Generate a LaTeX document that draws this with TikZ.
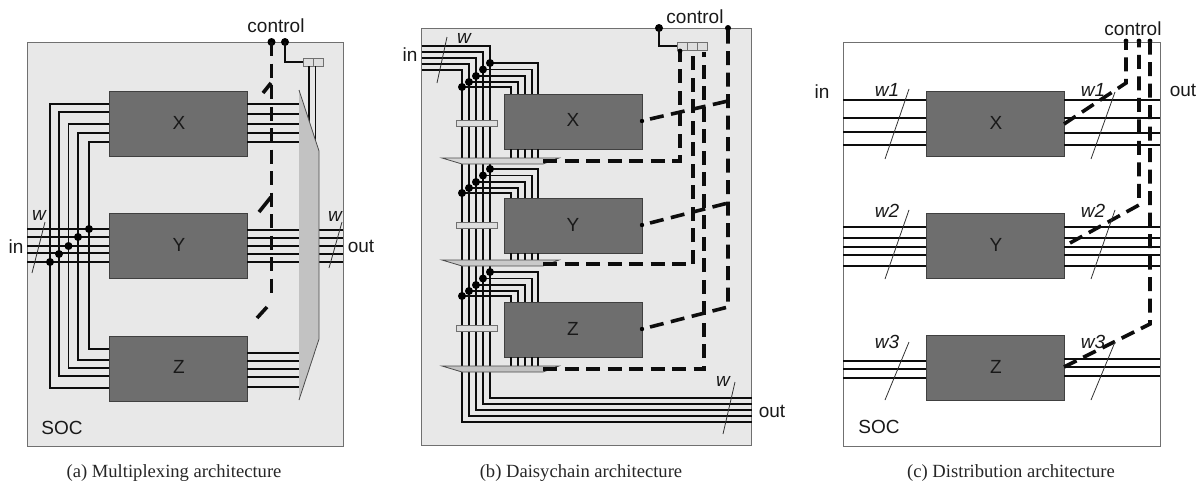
\documentclass[tikz,border=0pt]{standalone}
\usepackage{fontspec}
\setmainfont{Liberation Sans}
\newfontfamily\capfont{Liberation Serif}
\usetikzlibrary{calc}

\definecolor{socgray}{HTML}{E8E8E8}
\definecolor{blockgray}{HTML}{6E6E6E}
\definecolor{edgegray}{HTML}{707070}
\definecolor{muxgray}{HTML}{C2C2C2}
\definecolor{reggray}{HTML}{DEDEDE}

\tikzset{
  soc/.style={draw=edgegray, line width=1pt, outer sep=0pt, inner sep=0pt},
  block/.style={draw=black!75, fill=blockgray, line width=0.8pt, minimum width=138pt, outer sep=0pt, inner sep=0pt},
  reg/.style={draw=edgegray, fill=reggray, line width=0.8pt, outer sep=0pt, inner sep=0pt},
  wire/.style={line width=1.9pt, black!95},
  ctrl/.style={line width=3.6pt, black!95, dash pattern=on 14pt off 7.5pt},
  stub/.style={line width=3.6pt, black!95},
  slash/.style={line width=0.8pt, black!80},
  mux/.style={draw=black!70, fill=muxgray, line width=0.8pt},
  lab/.style={font=\fontsize{19}{19}\selectfont, text=black!90, inner sep=0pt},
  wlab/.style={font=\fontsize{19}{19}\selectfont\itshape, text=black!90, inner sep=0pt},
  captext/.style={font=\fontsize{18.6}{18.6}\selectfont\capfont, text=black!85, inner sep=0pt}
}

\begin{document}
\begin{tikzpicture}[x=1pt,y=-1pt]
\useasboundingbox (0,0) rectangle (1200,482);

% (a)
\node[soc, fill=socgray, minimum width=316pt, minimum height=404pt] (asoc) at (185,244) {};
\node[block, minimum height=65pt] (aX) at (178,123.5) {};
\node[block, minimum height=65pt] (aY) at (178,245.5) {};
\node[block, minimum height=65pt] (aZ) at (178,368.5) {};
\coordinate (am) at (299,0);

\foreach \y in {229,237,246,253,262}
    \draw[wire] (asoc.west |- 0,\y) -- (aY.west |- 0,\y);
\foreach \y in {230,238,246,254,262} {
    \draw[wire] (aY.east |- 0,\y) -- (am |- 0,\y);
    \draw[wire] (319,\y) -- (asoc.east |- 0,\y);
}
\foreach \y in {104,114,124,133,142}
    \draw[wire] (aX.east |- 0,\y) -- (am |- 0,\y);
\foreach \y in {353,361,369,377,387}
    \draw[wire] (aZ.east |- 0,\y) -- (am |- 0,\y);

\foreach \x/\yd/\yt/\yb in {50/262/104/388, 59/254/112/376, 68.5/246/124/368, 78/237/133/360, 89/229/142/349} {
    \draw[wire] (aX.west |- 0,\yt) -| (\x,\yb) -- (aZ.west |- 0,\yb);
    \fill (\x,\yd) circle (4pt);
}

\node[reg, minimum width=10pt, minimum height=8pt] (ar1) at (308,62) {};
\node[reg, minimum width=10pt, minimum height=8pt] (ar2) at (318,62) {};
\coordinate (ac1) at (271.5,42);
\coordinate (ac2) at (285,42);
\fill (ac1) circle (4pt);
\fill (ac2) circle (4pt);
\draw[wire] (ac2) |- (ar1.west);
\draw[wire] (309,66) -- (309,122);
\draw[wire] (315.5,66) -- (315.5,143);
\draw[mux] (299,90) -- (319,151) -- (319,339) -- (299,400);

\draw[ctrl] (ac1) -- (271.5,297);
\draw[stub] (263,93) -- (271,83);
\draw[stub] (259,212) -- (271,197);
\draw[stub] (267,307) -- (257,318);

\node[lab] (acontrol) at (276,26) {control};
\node[lab] (ain) at (16,247) {in};
\node[lab] (aout) at (361,246) {out};
\node[lab] (asoclab) at (62,428) {SOC};
\node[lab] (alX) at (179,123) {X};
\node[lab] (alY) at (179,245) {Y};
\node[lab] (alZ) at (179,367) {Z};
\node[wlab] (aw1) at (39,215) {w};
\node[wlab] (aw2) at (335,216) {w};
\draw[slash] (45,222) -- (32,273);
\draw[slash] (342,222) -- (329,268);
\node[captext] (acap) at (174,473) {(a) Multiplexing architecture};

% (b)
\node[soc, fill=socgray, minimum width=330pt, minimum height=417pt] (bsoc) at (586.5,236.5) {};
\node[block, minimum height=55pt] (bX) at (573,121.5) {};
\node[block, minimum height=55pt] (bY) at (573,225.5) {};
\node[block, minimum height=55pt] (bZ) at (573,329.5) {};

\foreach \x/\yt/\yb in {490/46/398, 483/52/404, 476/58/410, 469/64/416, 462/70/422}
    \draw[wire] (bsoc.west |- 0,\yt) -| (\x,\yb) -- (bsoc.east |- 0,\yb);

\foreach \blk/\off/\ym in {bX/0/158, bY/106/260, bZ/209/366}
    \foreach \x/\xb/\yd in {490/538/63, 483/532/69.5, 476/525/76, 469/518/82, 462/511/87} {
        \draw[wire] (\x,\yd+\off) -| (\blk.north -| \xb,0);
        \draw[wire] (\blk.south -| \xb,0) -- (\xb,\ym);
        \fill (\x,\yd+\off) circle (4pt);
    }

\foreach \y in {123,225,328}
    \node[reg, minimum width=41pt, minimum height=6pt] at (476.5,\y) {};
\foreach \y/\c in {158/30, 260/70, 366/100}
    \draw[draw=black!70, fill=muxgray!\c!reggray, line width=0.8pt] (442,\y) -- (559,\y) -- (543,\y+6) -- (462,\y+6) -- cycle;

\node[reg, minimum width=10pt, minimum height=8pt] (br1) at (682,46) {};
\node[reg, minimum width=10pt, minimum height=8pt] (br2) at (692,46) {};
\node[reg, minimum width=10pt, minimum height=8pt] (br3) at (702,46) {};
\coordinate (bc1) at (659,28);
\coordinate (bc2) at (728,28);
\fill (bc1) circle (4pt);
\fill (bc2) circle (3pt);
\draw[wire] (bc1) |- (br1.west);
\draw[ctrl] (543,161) -- (680,161) -- (680,52);
\draw[ctrl] (543,264) -- (693,264) -- (693,52);
\draw[ctrl] (543,369) -- (704,369) -- (704,52);
\fill (680,51) circle (2.4pt);
\draw[ctrl] (650,327) -- (728,307) -- (bc2);
\draw[ctrl] (650,119) -- (728,101);
\draw[ctrl] (650,223) -- (728,203);
\foreach \blk/\y in {bX/121, bY/225, bZ/329}
    \fill (\blk.east |- 0,\y) circle (2.2pt);

\node[lab] (bcontrol) at (695,17) {control};
\node[lab] (bin) at (410,55) {in};
\node[lab] (bout) at (772,411) {out};
\node[lab] (blX) at (573,120) {X};
\node[lab] (blY) at (573,225) {Y};
\node[lab] (blZ) at (573,329) {Z};
\node[wlab] (bw1) at (464,38) {w};
\node[wlab] (bw2) at (723,381) {w};
\draw[slash] (447,37) -- (437,83);
\draw[slash] (735,382) -- (723,434);
\node[captext] (bcap) at (581,473) {(b) Daisychain architecture};

% (c)
\node[soc, fill=white, minimum width=317pt, minimum height=404pt] (csoc) at (1001.5,244) {};
\node[block, minimum height=65pt] (cX) at (995,123.5) {};
\node[block, minimum height=65pt] (cY) at (995,245.5) {};
\node[block, minimum height=65pt] (cZ) at (995,368) {};

\foreach \y in {100,118,132,145}
    \draw[wire] (csoc.west |- 0,\y) -- (cX.west |- 0,\y);
\foreach \y in {100,118,133,145}
    \draw[wire] (cX.east |- 0,\y) -- (csoc.east |- 0,\y);
\foreach \y in {227,238,247,255,266} {
    \draw[wire] (csoc.west |- 0,\y) -- (cY.west |- 0,\y);
    \draw[wire] (cY.east |- 0,\y) -- (csoc.east |- 0,\y);
}
\foreach \y in {361,369,378}
    \draw[wire] (csoc.west |- 0,\y) -- (cZ.west |- 0,\y);
\foreach \y in {359,367,376}
    \draw[wire] (cZ.east |- 0,\y) -- (csoc.east |- 0,\y);

\foreach \i/\x in {1/1126,2/1139,3/1150} {
    \coordinate (cc\i) at (\x,41);
    \fill (cc\i) circle (2.4pt);
}
\draw[ctrl] (cX.east |- 0,124) -- (1126,83) -- (cc1);
\draw[ctrl] (1070,243) -- (1139,205) -- (cc2);
\draw[ctrl] (cZ.east |- 0,367) -- (1150,324) -- (cc3);

\node[lab] (ccontrol) at (1133,29) {control};
\node[lab] (cin) at (822,92) {in};
\node[lab] (cout) at (1183,90) {out};
\node[lab] (csoclab) at (879,427) {SOC};
\node[lab] (clX) at (996,123) {X};
\node[lab] (clY) at (996,245) {Y};
\node[lab] (clZ) at (996,367) {Z};

\foreach \n/\x/\y/\s in {wl1/887/90/w1, wr1/1093/90/w1, wl2/887/211/w2, wr2/1093/211/w2, wl3/887/342/w3, wr3/1093/342/w3}
    \node[wlab] (c\n) at (\x,\y) {\s};
\foreach \xa/\xb/\ya/\yb in {909/885/89/159, 1115/1091/92/159, 909/885/210/279, 1115/1091/210/279, 909/885/342/400, 1115/1091/342/400}
    \draw[slash] (\xa,\ya) -- (\xb,\yb);
\node[captext] (ccap) at (1011,473) {(c) Distribution architecture};

\end{tikzpicture}
\end{document}
